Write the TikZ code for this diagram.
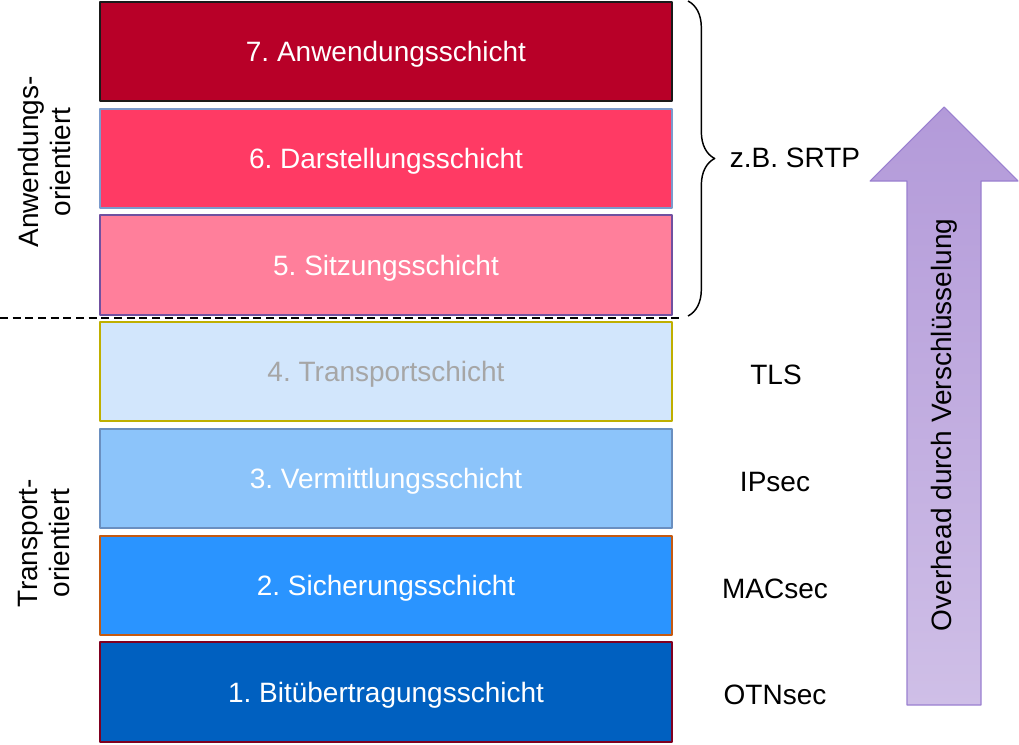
\documentclass[tikz,border=0pt]{standalone}
\usepackage{fontspec}
\setmainfont{Liberation Sans}
\usetikzlibrary{decorations.pathreplacing}
\frenchspacing
\definecolor{fsieben}{HTML}{B80028}
\definecolor{fsechs}{HTML}{FF3A64}
\definecolor{ffuenf}{HTML}{FF7F9B}
\definecolor{fvier}{HTML}{D2E6FC}
\definecolor{fdrei}{HTML}{8CC4FA}
\definecolor{fzwei}{HTML}{2A94FF}
\definecolor{feins}{HTML}{0060C0}
\definecolor{rsieben}{HTML}{1A1A1A}
\definecolor{rsechs}{HTML}{7B9ACC}
\definecolor{rfuenf}{HTML}{7050A0}
\definecolor{rvier}{HTML}{BFAF00}
\definecolor{rdrei}{HTML}{6A8FC0}
\definecolor{rzwei}{HTML}{C55A11}
\definecolor{reins}{HTML}{800020}
\definecolor{tvier}{HTML}{A6A6A6}
\definecolor{poben}{HTML}{B39AD9}
\definecolor{punten}{HTML}{CFBFE7}
\definecolor{prand}{HTML}{9A80D0}
\begin{document}
\begin{tikzpicture}[x=0.75pt,y=-0.75pt,font=\fontsize{21}{24}\selectfont, line join=round,
	schicht/.style={draw,line width=1.4pt,minimum width=429pt,minimum height=74.5pt,inner sep=0pt,text depth=0pt},
	seite/.style={rotate=90,align=center}]
	\useasboundingbox (0,0) rectangle (1019,744);
	% Schichten 1 bis 7
	\foreach \n/\fc/\dc/\tc/\txt in {1/feins/reins/white/{1. Bitübertragungsschicht},
		2/fzwei/rzwei/white/{2. Sicherungsschicht},3/fdrei/rdrei/white/{3. Vermittlungsschicht},
		4/fvier/rvier/tvier/{4. Transportschicht},5/ffuenf/rfuenf/white/{5. Sitzungsschicht},
		6/fsechs/rsechs/white/{6. Darstellungsschicht},7/fsieben/rsieben/white/{7. Anwendungsschicht}}{
		\node[schicht,fill=\fc,draw=\dc,text=\tc] (s\n) at (386,{692-(\n-1)*106.75}) {\txt};}
	\draw[line width=1.3pt,dash pattern=on 6pt off 3.5pt] (0,318)--(681,318);
	\node[seite] (anw) at (44,162) {Anwendungs-\\orientiert};
	\node[seite] (trans) at (44,543) {Transport-\\orientiert};
	% Verfahren rechts
	\draw[line width=1.1pt,decorate,decoration={brace,amplitude=20pt}] (688,1)--(688,316);
	\node (srtp) at (795,158) {z.B. SRTP};
	\node (tls) at (776,375) {TLS};
	\node (ipsec) at (775,482) {IPsec};
	\node (macsec) at (775,589) {MACsec};
	\node (otnsec) at (775,695) {OTNsec};
	% Pfeil
	\shade[top color=poben,bottom color=punten,draw=prand,line width=0.8pt]
		(944,107)--(1018,181)--(981,181)--(981,705)--(907,705)--(907,181)--(870,181)--cycle;
	\node[rotate=90] (overhead) at (944,425) {Overhead durch Verschlüsselung};
\end{tikzpicture}
\end{document}
